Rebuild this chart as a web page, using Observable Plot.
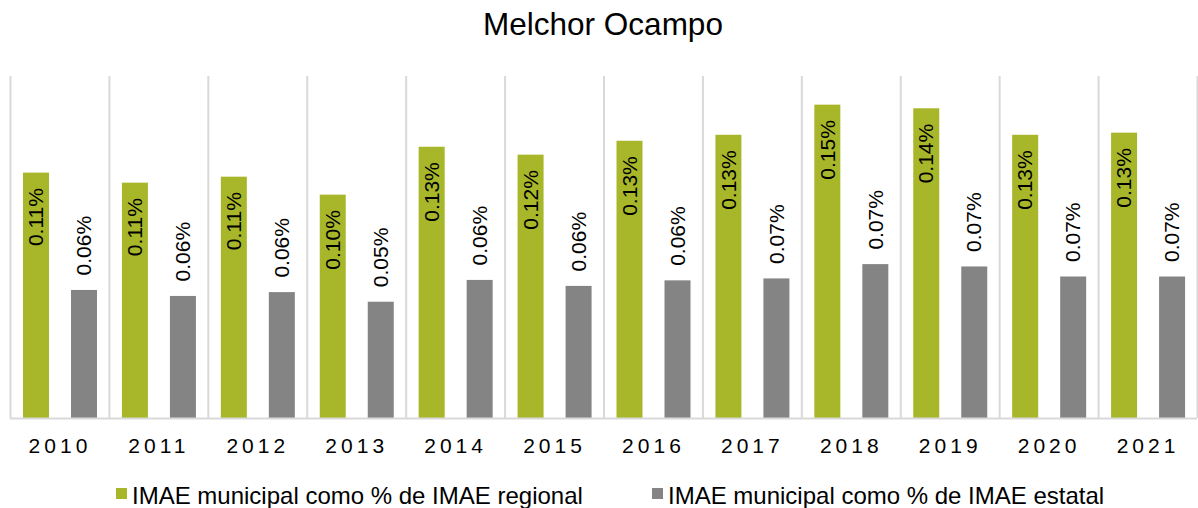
<!DOCTYPE html>
<html>
<head>
<meta charset="utf-8">
<script src="https://cdn.jsdelivr.net/npm/d3@7"></script>
<script src="https://cdn.jsdelivr.net/npm/@observablehq/plot@0.6"></script>
<style>
  body { margin: 0; background: #fff; font-family: "Liberation Sans", Arial, sans-serif; }
  #wrap { width: 1198px; height: 508px; position: relative; overflow: hidden; background: #fff; }
  #title { position: absolute; left: 0; top: 0; width: 1198px; height: 48px; line-height: 48px;
           font-size: 31.5px; text-align: center; color: #000; padding-left: 8px; box-sizing: border-box; }
  #chart { position: absolute; left: 0; top: 48px; }
  .leg { position: absolute; top: 484px; display: flex; align-items: flex-start; font-size: 24px;
         line-height: 24px; color: #000; white-space: nowrap; }
  .sw { width: 11px; height: 11px; margin-top: 4px; margin-right: 5px; }
  g[aria-label="x-axis tick label"] text { letter-spacing: 4px; }
</style>
</head>
<body>
<div id="wrap">
  <div id="title"></div>
  <div id="chart"></div>
</div>
<script>
const title = "Melchor Ocampo";
const years = ["2010", "2011", "2012", "2013", "2014", "2015", "2016", "2017", "2018", "2019", "2020", "2021"];
const seriesNames = ["IMAE municipal como % de IMAE regional", "IMAE municipal como % de IMAE estatal"];
const seriesColors = ["#a8b72a", "#848484"];
// values in percent
const regional = [0.1148, 0.1101, 0.1129, 0.1045, 0.1269, 0.1232, 0.1297, 0.1325, 0.1466, 0.1449, 0.1325, 0.1335];
const estatal  = [0.0599, 0.0571, 0.0589, 0.0544, 0.0646, 0.0618, 0.0644, 0.0653, 0.0720, 0.0709, 0.0662, 0.0662];

const rows = years.map((year, i) => ({year, regional: regional[i], estatal: estatal[i]}));
const fmt = v => v.toFixed(2) + "%";

document.getElementById("title").textContent = title;

const width = 1198, mL = 10, mR = 1;
const step = (width - mL - mR) / years.length;
const barW = 26, gOff = 13, sOff = 61;

const chart = Plot.plot({
  width,
  height: 424,
  marginTop: 28,
  marginBottom: 54,
  marginLeft: mL,
  marginRight: mR,
  style: {fontFamily: '"Liberation Sans", Arial, sans-serif', fontSize: "21px", color: "#000", background: "transparent"},
  x: {type: "band", domain: years, padding: 0, round: false, label: null},
  y: {domain: [0, 0.16], axis: null},
  marks: [
    Plot.ruleX(years, {x: d => d, dx: -step / 2, y1: 0, y2: 0.16, stroke: "#d9d9d9", strokeWidth: 2}),
    Plot.ruleX(years.slice(-1), {x: d => d, dx: step / 2, y1: 0, y2: 0.16, stroke: "#d9d9d9", strokeWidth: 2}),
    Plot.barY(rows, {x: "year", y: "regional", fill: seriesColors[0], insetLeft: gOff, insetRight: step - gOff - barW}),
    Plot.barY(rows, {x: "year", y: "estatal", fill: seriesColors[1], insetLeft: sOff, insetRight: step - sOff - barW}),
    Plot.ruleY([0], {stroke: "#d9d9d9", strokeWidth: 2}),
    Plot.text(rows, {x: "year", y: "regional", text: d => fmt(d.regional), rotate: -90, textAnchor: "end",
      dx: gOff + barW / 2 - step / 2, dy: 15, fill: "#000", fontSize: 21}),
    Plot.text(rows, {x: "year", y: "estatal", text: d => fmt(d.estatal), rotate: -90, textAnchor: "start",
      dx: sOff + barW / 2 - step / 2, dy: -15, fill: "#000", fontSize: 21}),
    Plot.axisX({tickSize: 0, tickPadding: 20, fill: "#000", fontSize: 21})
  ]
});
document.getElementById("chart").appendChild(chart);

const wrap = document.getElementById("wrap");
const legendLefts = [116, 652];
seriesNames.forEach((name, i) => {
  const item = document.createElement("div");
  item.className = "leg";
  item.style.left = legendLefts[i] + "px";
  const sw = document.createElement("div");
  sw.className = "sw";
  sw.style.background = seriesColors[i];
  const tx = document.createElement("span");
  tx.textContent = name;
  item.appendChild(sw);
  item.appendChild(tx);
  wrap.appendChild(item);
});
</script>
</body>
</html>
